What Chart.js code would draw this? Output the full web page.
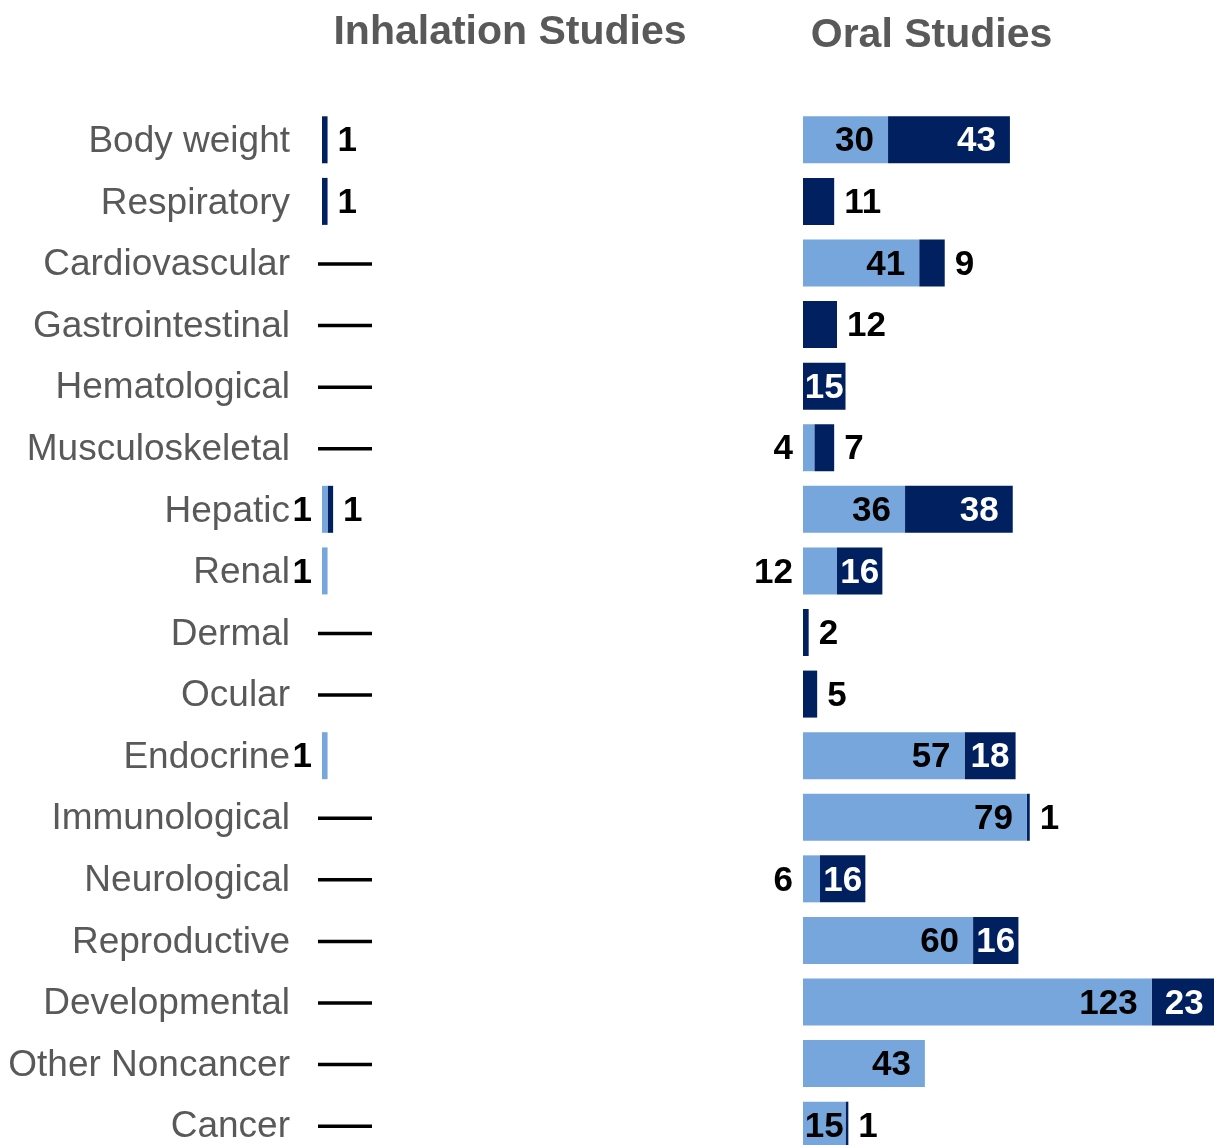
<!DOCTYPE html>
<html>
<head>
<meta charset="utf-8">
<script src="https://cdn.jsdelivr.net/npm/chart.js@4/dist/chart.umd.min.js"></script>
<style>
  html, body { margin: 0; padding: 0; background: #ffffff; overflow: hidden; }
  #wrap { position: relative; width: 1214px; height: 1145px; overflow: hidden; }
  canvas { position: absolute; top: 0; }
  #inhal { left: 0; }
  #oral { left: 700px; }
</style>
</head>
<body>
<div id="wrap">
  <canvas id="inhal" width="700" height="1160"></canvas>
  <canvas id="oral" width="514" height="1160"></canvas>
</div>
<script>
// Health-effect categories, one row each
const categories = [
  'Body weight', 'Respiratory', 'Cardiovascular', 'Gastrointestinal',
  'Hematological', 'Musculoskeletal', 'Hepatic', 'Renal', 'Dermal',
  'Ocular', 'Endocrine', 'Immunological', 'Neurological', 'Reproductive',
  'Developmental', 'Other Noncancer', 'Cancer'
];

// Inhalation study counts (light and dark segments)
const inhalationLight = [0, 0, 0, 0, 0, 0, 1, 1, 0, 0, 1, 0, 0, 0, 0, 0, 0];
const inhalationDark  = [1, 1, 0, 0, 0, 0, 1, 0, 0, 0, 0, 0, 0, 0, 0, 0, 0];

// Oral study counts (light and dark segments)
const oralLight = [30, 0, 41, 0, 0, 4, 36, 12, 0, 0, 57, 79, 6, 60, 123, 43, 15];
const oralDark  = [43, 11, 9, 12, 15, 7, 38, 16, 2, 5, 18, 1, 16, 16, 23, 0, 1];

const panelTitles = ['Inhalation Studies', 'Oral Studies'];

const LIGHT = '#77A6DC';
const DARK = '#002060';
const FONT = '"Liberation Sans", Arial, Helvetica, sans-serif';

// Panel heading drawn above each chart area
const panelTitle = {
  id: 'panelTitle',
  afterDraw(chart, args, opts) {
    const ctx = chart.ctx;
    ctx.save();
    ctx.font = 'bold 41px ' + FONT;
    ctx.fillStyle = '#595959';
    ctx.textAlign = 'center';
    ctx.textBaseline = 'alphabetic';
    ctx.fillText(opts.text, chart.chartArea.left + opts.dx, opts.baseline);
    ctx.restore();
  }
};

// Value labels: inside the segment when the number fits, otherwise beside it
const barLabels = {
  id: 'barLabels',
  afterDatasetsDraw(chart, args, opts) {
    const ctx = chart.ctx;
    const xScale = chart.scales.x;
    const yScale = chart.scales.y;
    ctx.save();
    ctx.font = 'bold 35px ' + FONT;
    ctx.textBaseline = 'middle';
    chart.data.datasets.forEach((ds, di) => {
      const meta = chart.getDatasetMeta(di);
      meta.data.forEach((bar, i) => {
        const v = ds.data[i];
        if (!v) return;
        const text = String(v);
        const w = ctx.measureText(text).width;
        const left = Math.min(bar.base, bar.x);
        const right = Math.max(bar.base, bar.x);
        const bw = right - left;
        const y = bar.y + 2;
        if (bw >= Math.max(w + 2, opts.minInside)) {
          ctx.textAlign = 'right';
          ctx.fillStyle = ds.insideLabelColor;
          ctx.fillText(text, right - Math.min(opts.insidePad, (bw - w) / 2), y);
        } else if (di === 0) {
          ctx.textAlign = 'right';
          ctx.fillStyle = '#000000';
          ctx.fillText(text, left - opts.gap, y);
        } else {
          ctx.textAlign = 'left';
          ctx.fillStyle = '#000000';
          ctx.fillText(text, right + opts.gap, y);
        }
      });
    });
    // A dash marks rows with no studies
    if (opts.zeroDash) {
      const x0 = xScale.getPixelForValue(0);
      ctx.strokeStyle = '#000000';
      ctx.lineWidth = 3.5;
      chart.data.labels.forEach((lab, i) => {
        const total = chart.data.datasets.reduce((s, ds) => s + (ds.data[i] || 0), 0);
        if (total !== 0) return;
        const y = yScale.getPixelForValue(i) + 1;
        ctx.beginPath();
        ctx.moveTo(x0 - 4, y);
        ctx.lineTo(x0 + 50, y);
        ctx.stroke();
      });
    }
    ctx.restore();
  }
};

function makeDatasets(light, dark) {
  return [
    { label: 'Group A', data: light, backgroundColor: LIGHT, borderWidth: 0,
      barPercentage: 0.763, categoryPercentage: 1, insideLabelColor: '#000000' },
    { label: 'Group B', data: dark, backgroundColor: DARK, borderWidth: 0,
      barPercentage: 0.763, categoryPercentage: 1, insideLabelColor: '#ffffff' }
  ];
}

new Chart(document.getElementById('inhal'), {
  type: 'bar',
  data: { labels: categories, datasets: makeDatasets(inhalationLight, inhalationDark) },
  options: {
    indexAxis: 'y',
    responsive: false,
    animation: false,
    devicePixelRatio: 1,
    layout: { padding: { top: 109, bottom: 4, left: 0, right: 0 } },
    plugins: {
      legend: { display: false },
      tooltip: { enabled: false },
      panelTitle: { text: panelTitles[0], dx: 188, baseline: 44 },
      barLabels: { gap: 10, insidePad: 14, minInside: 40, zeroDash: true }
    },
    scales: {
      x: { stacked: true, min: 0, max: 68, display: false },
      y: {
        stacked: true,
        grid: { display: false, drawTicks: false },
        border: { display: false },
        ticks: { color: '#595959', font: { family: FONT, size: 37 }, padding: 32, labelOffset: 2 },
        afterFit(scale) {
          scale.width = 322;
          scale.paddingTop = 0;
          scale.paddingBottom = 0;
        }
      }
    }
  },
  plugins: [panelTitle, barLabels]
});

new Chart(document.getElementById('oral'), {
  type: 'bar',
  data: { labels: categories, datasets: makeDatasets(oralLight, oralDark) },
  options: {
    indexAxis: 'y',
    responsive: false,
    animation: false,
    devicePixelRatio: 1,
    layout: { padding: { top: 109, bottom: 4, left: 103, right: 0 } },
    plugins: {
      legend: { display: false },
      tooltip: { enabled: false },
      panelTitle: { text: panelTitles[1], dx: 128.5, baseline: 47 },
      barLabels: { gap: 10, insidePad: 14, minInside: 40, zeroDash: false }
    },
    scales: {
      x: { stacked: true, min: 0, max: 145, display: false },
      y: { stacked: true, display: false }
    }
  },
  plugins: [panelTitle, barLabels]
});
</script>
</body>
</html>
